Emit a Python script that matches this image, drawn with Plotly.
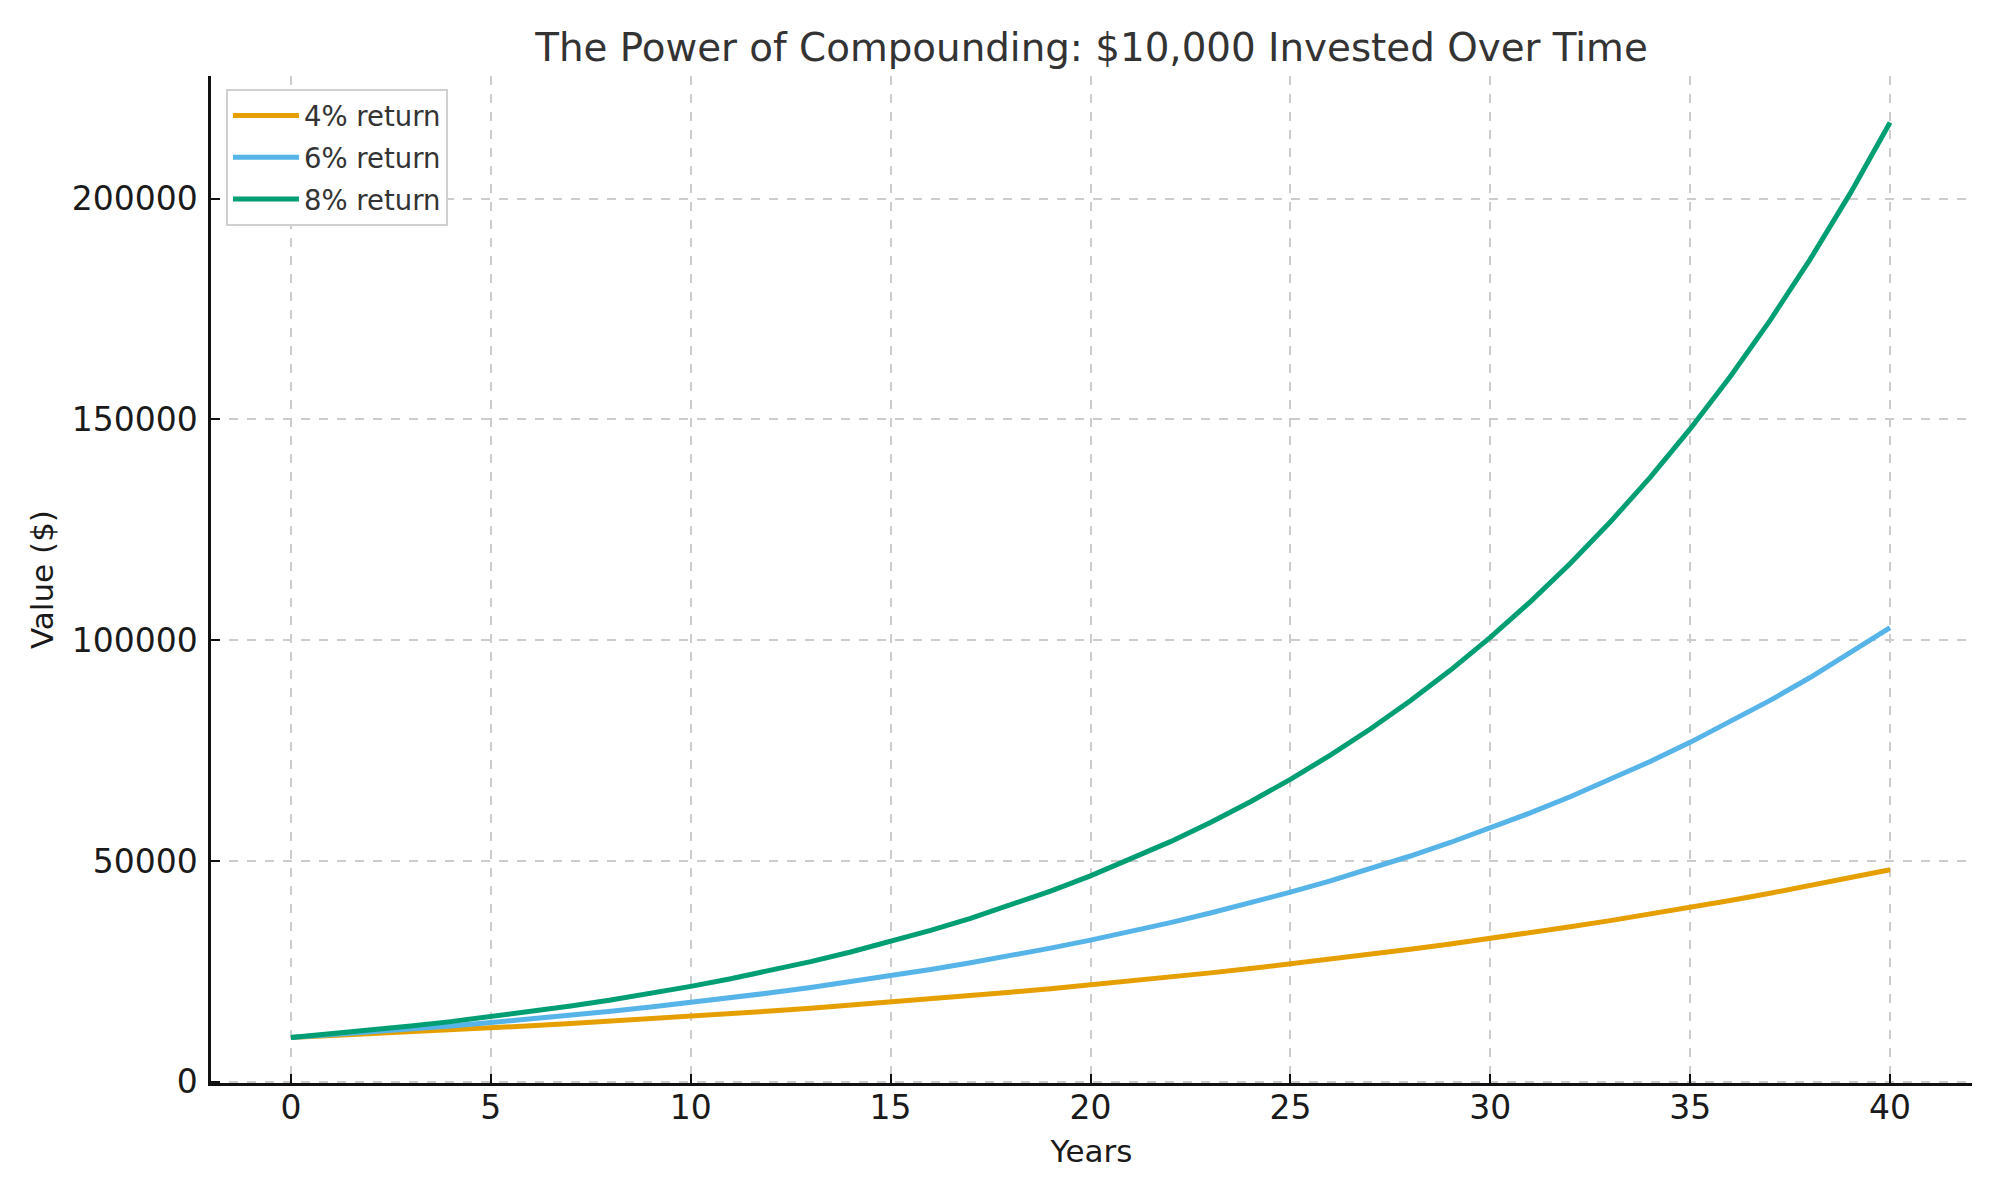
import plotly.graph_objects as go

years = list(range(0, 41))

value_4pct = [10000, 10400, 10816, 11249, 11699, 12167, 12653, 13159, 13686, 14233,
              14802, 15395, 16010, 16651, 17317, 18009, 18730, 19479, 20258, 21068,
              21911, 22788, 23699, 24647, 25633, 26658, 27725, 28834, 29987, 31187,
              32434, 33731, 35081, 36484, 37943, 39461, 41039, 42681, 44388, 46164, 48010]

value_6pct = [10000, 10600, 11236, 11910, 12625, 13382, 14185, 15036, 15938, 16895,
              17908, 18983, 20122, 21329, 22609, 23966, 25404, 26928, 28543, 30256,
              32071, 33996, 36035, 38197, 40489, 42919, 45494, 48223, 51117, 54184,
              57435, 60881, 64534, 68406, 72510, 76861, 81473, 86361, 91543, 97035, 102857]

value_8pct = [10000, 10800, 11664, 12597, 13605, 14693, 15869, 17138, 18509, 19990,
              21589, 23316, 25182, 27196, 29372, 31722, 34259, 37000, 39960, 43157,
              46610, 50338, 54365, 58715, 63412, 68485, 73964, 79881, 86271, 93173,
              100627, 108677, 117371, 126760, 136901, 147853, 159682, 172456, 186253, 201153, 217245]

series_names = ["4% return", "6% return", "8% return"]
series_colors = ["#E69F00", "#56B4E9", "#009E73"]
x_ticks = [0, 5, 10, 15, 20, 25, 30, 35, 40]
y_ticks = [0, 50000, 100000, 150000, 200000]

FONT = "DejaVu Sans"

fig = go.Figure()
for name, vals, col in zip(series_names, [value_4pct, value_6pct, value_8pct], series_colors):
    fig.add_trace(go.Scatter(x=years, y=vals, mode="lines", name=name, legendgroup=name,
                             line=dict(color=col, width=5)))

axis_common = dict(
    showline=True, linecolor="#111111", linewidth=2.5, mirror=False,
    showgrid=True, gridcolor="#cccccc", gridwidth=1.5, griddash="dash",
    ticks="inside", ticklen=9, tickwidth=2, tickcolor="#111111",
    tickfont=dict(family=FONT, size=33, color="#1a1a1a"),
    zeroline=False, automargin=False,
)

fig.update_layout(
    width=2000, height=1200,
    margin=dict(l=203, r=36, t=68, b=125),
    paper_bgcolor="white", plot_bgcolor="white",
    title=dict(text="The Power of Compounding: $10,000 Invested Over Time",
               font=dict(family=FONT, size=38.8, color="#333333"),
               xref="paper", x=0.5, xanchor="center", y=1 - 39 / 1200, yanchor="middle"),
    xaxis=dict(range=[-2.0, 42.05], tickvals=x_ticks, ticklabelstandoff=-6,
               title=dict(text="Years", font=dict(family=FONT, size=31, color="#1a1a1a"), standoff=14),
               **axis_common),
    yaxis=dict(range=[-300, 227800], tickvals=y_ticks, tickformat="d", ticklabelstandoff=4,
               title=dict(text="Value ($)", font=dict(family=FONT, size=31, color="#1a1a1a"), standoff=9),
               **axis_common),
    legend=dict(x=0.0085, y=0.987, xanchor="left", yanchor="top",
                bgcolor="white", bordercolor="#d0d0d0", borderwidth=2,
                font=dict(family=FONT, size=27.5, color="#333333"),
                itemwidth=66, tracegroupgap=3),
    showlegend=True,
)

fig.write_html("out.html")
